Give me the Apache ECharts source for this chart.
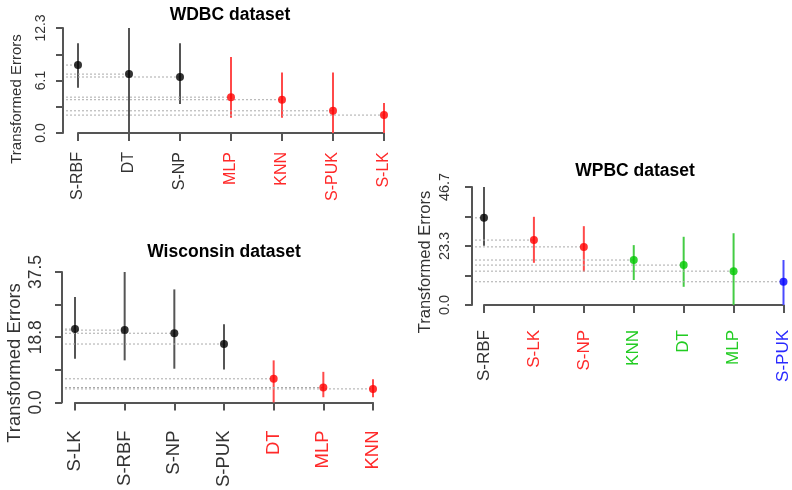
<!DOCTYPE html>
<html>
<head>
<meta charset="utf-8">
<script src="https://cdn.jsdelivr.net/npm/echarts@6/dist/echarts.min.js"></script>
<style>
  html, body { margin: 0; padding: 0; background: #fff; }
  #chart { width: 792px; height: 490px; }
</style>
</head>
<body>
<div id="chart"></div>
<script>
// WDBC dataset
var wdbcLabels = ['S-RBF', 'DT', 'S-NP', 'MLP', 'KNN', 'S-PUK', 'S-LK'];
var wdbcMean = [7.96, 6.9, 6.56, 4.2, 3.9, 2.6, 2.1];
var wdbcLow = [5.3, 0, 3.4, 1.8, 1.8, 0, 0];
var wdbcHigh = [10.5, 12.3, 10.5, 8.9, 7.1, 7.1, 3.5];
var wdbcGroup = [0, 0, 0, 1, 1, 1, 1];
var wdbcTicks = ['0.0', '', '6.1', '', '12.3'];

// Wisconsin dataset
var wiscLabels = ['S-LK', 'S-RBF', 'S-NP', 'S-PUK', 'DT', 'MLP', 'KNN'];
var wiscMean = [21.1, 20.8, 19.9, 16.8, 6.8, 4.3, 3.9];
var wiscLow = [12.6, 12.1, 9.7, 9.5, 0, 1.5, 1.5];
var wiscHigh = [30.3, 37.5, 32.5, 22.5, 12.1, 8.8, 6.7];
var wiscGroup = [0, 0, 0, 0, 1, 1, 1];
var wiscTicks = ['0.0', '', '18.8', '', '37.5'];

// WPBC dataset
var wpbcLabels = ['S-RBF', 'S-LK', 'S-NP', 'KNN', 'DT', 'MLP', 'S-PUK'];
var wpbcMean = [34.5, 25.7, 23.0, 17.8, 15.8, 13.4, 9.2];
var wpbcLow = [23.4, 16.7, 13.2, 9.9, 7.2, 0, 0];
var wpbcHigh = [46.7, 34.9, 31.2, 23.7, 27.0, 28.4, 17.8];
var wpbcGroup = [0, 1, 1, 2, 2, 2, 3];
var wpbcTicks = ['0.0', '', '23.3', '', '46.7'];

var pointColors = ['#000000', '#ff0000', '#00c800', '#0000ff'];
var barColors = ['#555555', '#ff4a4a', '#44cc44', '#4a4aff'];
var labelColors = ['#333333', '#ff2a2a', '#22cc22', '#2a2aff'];

var FONT = '"Liberation Sans", Arial, sans-serif';

var chart = echarts.init(document.getElementById('chart'));

// one panel = grid + axes + error bars + points
var panels = [
  { labels: wdbcLabels, mean: wdbcMean, low: wdbcLow, high: wdbcHigh, group: wdbcGroup, ticks: wdbcTicks,
    max: 12.3, grid: { left: 78, top: 28, width: 306, height: 105 },
    yOff: 15, xOff: 4, yMargin: 15, xMargin: 15, tickFont: 14, labFont: 16 },
  { labels: wiscLabels, mean: wiscMean, low: wiscLow, high: wiscHigh, group: wiscGroup, ticks: wiscTicks,
    max: 37.5, grid: { left: 75, top: 272, width: 298, height: 132 },
    yOff: 13, xOff: 6, yMargin: 17, xMargin: 22, tickFont: 17.5, labFont: 18.5 },
  { labels: wpbcLabels, mean: wpbcMean, low: wpbcLow, high: wpbcHigh, group: wpbcGroup, ticks: wpbcTicks,
    max: 46.7, grid: { left: 484, top: 187, width: 302, height: 118 },
    yOff: 12, xOff: 6, yMargin: 20, xMargin: 19, tickFont: 14.5, labFont: 17 }
];

var grids = [], xAxes = [], yAxes = [], series = [];

panels.forEach(function (p, k) {
  grids.push(p.grid);
  xAxes.push({
    type: 'category', gridIndex: k, data: p.labels, boundaryGap: false,
    offset: p.xOff,
    axisLine: { lineStyle: { color: '#555', width: 2 } },
    axisTick: { length: 8, alignWithLabel: true, lineStyle: { color: '#555', width: 2 } },
    axisLabel: {
      rotate: 90, interval: 0, margin: p.xMargin, fontFamily: FONT, fontSize: p.labFont,
      color: function (v, i) { return labelColors[p.group[i]]; }
    },
    splitLine: { show: false }
  });
  yAxes.push({
    type: 'value', gridIndex: k, min: 0, max: p.max, interval: p.max / 4,
    offset: p.yOff,
    axisLine: { show: true, lineStyle: { color: '#555', width: 2 } },
    axisTick: { show: true, length: 7, lineStyle: { color: '#555', width: 2 } },
    axisLabel: {
      rotate: 90, margin: p.yMargin, fontFamily: FONT, fontSize: p.tickFont, color: '#333',
      formatter: function (v, i) { return p.ticks[i]; }
    },
    splitLine: { show: false }
  });

  var barData = p.labels.map(function (c, i) { return [i, p.low[i], p.high[i], p.mean[i], p.group[i]]; });
  series.push({
    type: 'custom', xAxisIndex: k, yAxisIndex: k, silent: true,
    data: barData,
    encode: { x: 0, y: [1, 2] },
    renderItem: function (params, api) {
      var m = api.coord([api.value(0), api.value(3)]);
      var lo = api.coord([api.value(0), api.value(1)]);
      var hi = api.coord([api.value(0), api.value(2)]);
      var cs = params.coordSys;
      return {
        type: 'group',
        children: [
          { type: 'line', shape: { x1: cs.x - p.yOff + 3, y1: m[1], x2: m[0], y2: m[1] },
            style: { stroke: '#aaa', lineWidth: 1, lineDash: [2, 2] } },
          { type: 'line', shape: { x1: lo[0], y1: lo[1], x2: hi[0], y2: hi[1] },
            style: { stroke: barColors[api.value(4)], lineWidth: 2 } }
        ]
      };
    },
    z: 2
  });
  series.push({
    type: 'scatter', xAxisIndex: k, yAxisIndex: k, silent: true,
    symbol: 'circle', symbolSize: 8,
    data: p.labels.map(function (c, i) { return [i, p.mean[i]]; }),
    itemStyle: { color: function (d) { return pointColors[p.group[d.dataIndex]]; } },
    z: 3
  });
});

function txt(t, x, y, size, bold, rot) {
  return {
    type: 'text', x: x, y: y, rotation: rot || 0,
    style: {
      text: t, fill: bold ? '#000' : '#333',
      font: (bold ? 'bold ' : '') + size + 'px ' + FONT,
      align: 'center', verticalAlign: 'middle',
      textAlign: 'center', textVerticalAlign: 'middle'
    }
  };
}

var option = {
  backgroundColor: '#fff',
  animation: false,
  grid: grids,
  xAxis: xAxes,
  yAxis: yAxes,
  series: series,
  graphic: [
    txt('WDBC dataset', 230, 15, 17.5, true),
    txt('Wisconsin dataset', 224, 252, 17.5, true),
    txt('WPBC dataset', 635, 171, 17.5, true),
    txt('Transformed Errors', 17, 99, 15, false, Math.PI / 2),
    txt('Transformed Errors', 15, 363, 18.5, false, Math.PI / 2),
    txt('Transformed Errors', 425, 262, 16.5, false, Math.PI / 2)
  ]
};

option && chart.setOption(option);
</script>
</body>
</html>
